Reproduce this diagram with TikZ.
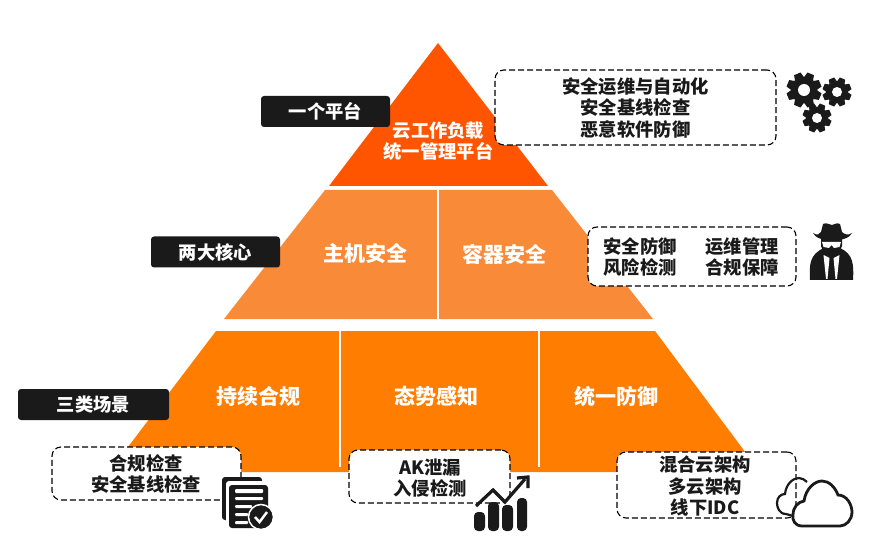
\documentclass[tikz,border=0pt]{standalone}
\usepackage{fontspec}
\setmainfont{Noto Sans CJK SC}
\usepackage{xcolor}
\usepackage{tikz}
\definecolor{tiertop}{RGB}{255,85,0}
\definecolor{tiermid}{RGB}{249,138,56}
\definecolor{tierlow}{RGB}{255,125,0}
\definecolor{inkcol}{RGB}{26,26,26}

\newcommand{\drawgear}[4]{% x, y, outer radius, hole radius
  \foreach \a in {0,45,...,315}
    \fill[inkcol, rotate around={\a+22.5:(#1,#2)}]
      (#1-0.27*#3,#2-0.7*#3) -- (#1-0.2*#3,#2-#3) -- (#1+0.2*#3,#2-#3) -- (#1+0.27*#3,#2-0.7*#3) -- cycle;
  \fill[inkcol] (#1,#2) circle[radius=0.76*#3];
  \fill[white] (#1,#2) circle[radius=#4];
}

\begin{document}
\begin{tikzpicture}[
  x=1pt, y=-1pt,
  font=\bfseries\fontsize{18.3}{21.5}\selectfont,
  tierlabel/.style={text=white, inner sep=0pt, align=center},
  biglabel/.style={tierlabel, font=\bfseries\fontsize{21}{24}\selectfont},
  tag/.style={fill=inkcol, rounded corners=3pt, text=white, inner sep=0pt,
              minimum width=#1, minimum height=31pt},
  note/.style={draw=black, dash pattern=on 6pt off 3pt, fill=white, rounded corners=9pt,
               inner sep=0pt, line width=1.1pt},
  notetext/.style={text=inkcol, inner sep=0pt, align=center},
  divider/.style={white, line width=2.6pt}
]
  \useasboundingbox (0,0) rectangle (891,545);

  % pyramid
  \fill[tiertop] (438,43) -- (548,186) -- (329,186) -- cycle;
  \fill[tiermid] (325,190) -- (552,190) -- (653,319) -- (224,319) -- cycle;
  \fill[tierlow] (216,331) -- (655,331) -- (760,472) -- (109,472) -- cycle;
  \draw[divider] (438,190) -- (438,319);
  \draw[divider] (340,331) -- (340,467);
  \draw[divider] (539,331) -- (539,467);

  \node[tierlabel] (platform) at (438.5,141) {云工作负载\\统一管理平台};
  \node[biglabel] (host) at (365.5,254) {主机安全};
  \node[biglabel] (container) at (504,254) {容器安全};
  \node[biglabel] (comply) at (258,396) {持续合规};
  \node[biglabel] (aware) at (436,396) {态势感知};
  \node[biglabel] (defend) at (616,396) {统一防御};

  % left tags
  \node[tag=129pt] (tag1) at (325.5,111.5) {一个平台};
  \node[tag=129pt] (tag2) at (215.5,252) {两大核心};
  \node[tag=151pt] (tag3) at (93.5,404.5) {三类场景};

  % dashed notes
  \node[note, minimum width=281pt, minimum height=75pt] (note1) at (635.5,107.5) {};
  \node[notetext] at (note1) {安全运维与自动化\\安全基线检查\\恶意软件防御};
  \node[note, minimum width=208pt, minimum height=59pt] (note2) at (692,256.5) {};
  \node[notetext] at (640,257) {安全防御\\风险检测};
  \node[notetext] at (742,257) {运维管理\\合规保障};
  \node[note, minimum width=189pt, minimum height=53pt] (note3) at (146.5,473.5) {};
  \node[notetext] at (146,474) {合规检查\\安全基线检查};
  \node[note, minimum width=161pt, minimum height=53pt] (note4) at (429.5,476.5) {};
  \node[notetext] at (430,478) {AK泄漏\\入侵检测};
  \node[note, minimum width=179pt, minimum height=66pt] (note5) at (706.5,485) {};
  \node[notetext] at (705,486) {混合云架构\\多云架构\\线下IDC};

  % gears
  \drawgear{804}{90}{17.5}{6}
  \drawgear{837}{92}{14.5}{5}
  \drawgear{817}{118}{14.5}{5}

  % spy
  \fill[inkcol] (810,280) .. controls (809,264) and (810,254) .. (824,248) -- (840,248)
    .. controls (853,254) and (854,264) .. (853,280) -- cycle;
  \fill[inkcol] (821,236) -- (821,246) .. controls (824,258) and (839,258) .. (842,246) -- (842,236) -- cycle;
  \fill[inkcol] (813,233) .. controls (817,236) and (820,234) .. (821,232) -- (823,224)
    .. controls (827,222) and (829,225) .. (832,225) .. controls (835,225) and (836,222) .. (840,224)
    -- (842,232) .. controls (844,234) and (848,236) .. (852,233) .. controls (848,243) and (817,243) .. (813,233) -- cycle;
  \fill[white] (822,242) -- (841,242) -- (839.5,247) -- (834,248) -- (831.5,245) -- (829,248) -- (823.5,247) -- cycle;
  \fill[white] (823.5,255) -- (829.5,258) -- (829,263) -- (827.5,279) -- (826,279) -- cycle;
  \fill[white] (839.5,255) -- (833.5,258) -- (834,263) -- (835.5,279) -- (837,279) -- cycle;

  % document
  \fill[inkcol, rounded corners=3pt] (222,477) rectangle (262,520);
  \fill[white, rounded corners=3pt] (226,481) rectangle (266,524);
  \fill[inkcol, rounded corners=3pt] (229,485) rectangle (268,528);
  \fill[white, rounded corners=1pt] (235,489) rectangle (263,493);
  \fill[white, rounded corners=1pt] (235,497) rectangle (263,500);
  \fill[white, rounded corners=1pt] (235,505) rectangle (252,508);
  \fill[white, rounded corners=1pt] (235,513) rectangle (248,516);
  \fill[white, rounded corners=1pt] (235,521) rectangle (248,524);
  \fill[inkcol, draw=white, line width=1.5pt] (261,517) circle[radius=12.5];
  \draw[white, line width=2.5pt] (255,517) -- (259.5,522) -- (267,512);

  % chart
  \fill[inkcol, rounded corners=4pt] (474,512) rectangle (485,531);
  \fill[inkcol, rounded corners=4pt] (488,502) rectangle (499,531);
  \fill[inkcol, rounded corners=4pt] (502,505) rectangle (513,531);
  \fill[inkcol, rounded corners=4pt] (517,498) rectangle (527,531);
  \draw[inkcol, line width=3.2pt] (476,506) -- (493,490) -- (505,502) -- (525,479);
  \draw[inkcol, line width=3.2pt] (517,478) -- (528,477) -- (528,488);

  % cloud
  \draw[inkcol, line width=2.2pt] (793,516) -- (786,514) .. controls (779,514) and (777,507) .. (777,503)
    .. controls (777,497) and (781,494) .. (785,494) .. controls (786,484) and (793,478) .. (799,478)
    .. controls (802,478) and (805,480) .. (807,482);
  \draw[inkcol, fill=white, line width=2.8pt] (802,526) .. controls (795,526) and (792,520) .. (793,515)
    .. controls (793,507) and (798,502) .. (804,501) .. controls (806,488) and (815,481) .. (822,481)
    .. controls (829,481) and (835,487) .. (838,495) .. controls (847,495) and (852,505) .. (852,512)
    .. controls (852,520) and (846,526) .. (840,526) -- cycle;
\end{tikzpicture}
\end{document}
